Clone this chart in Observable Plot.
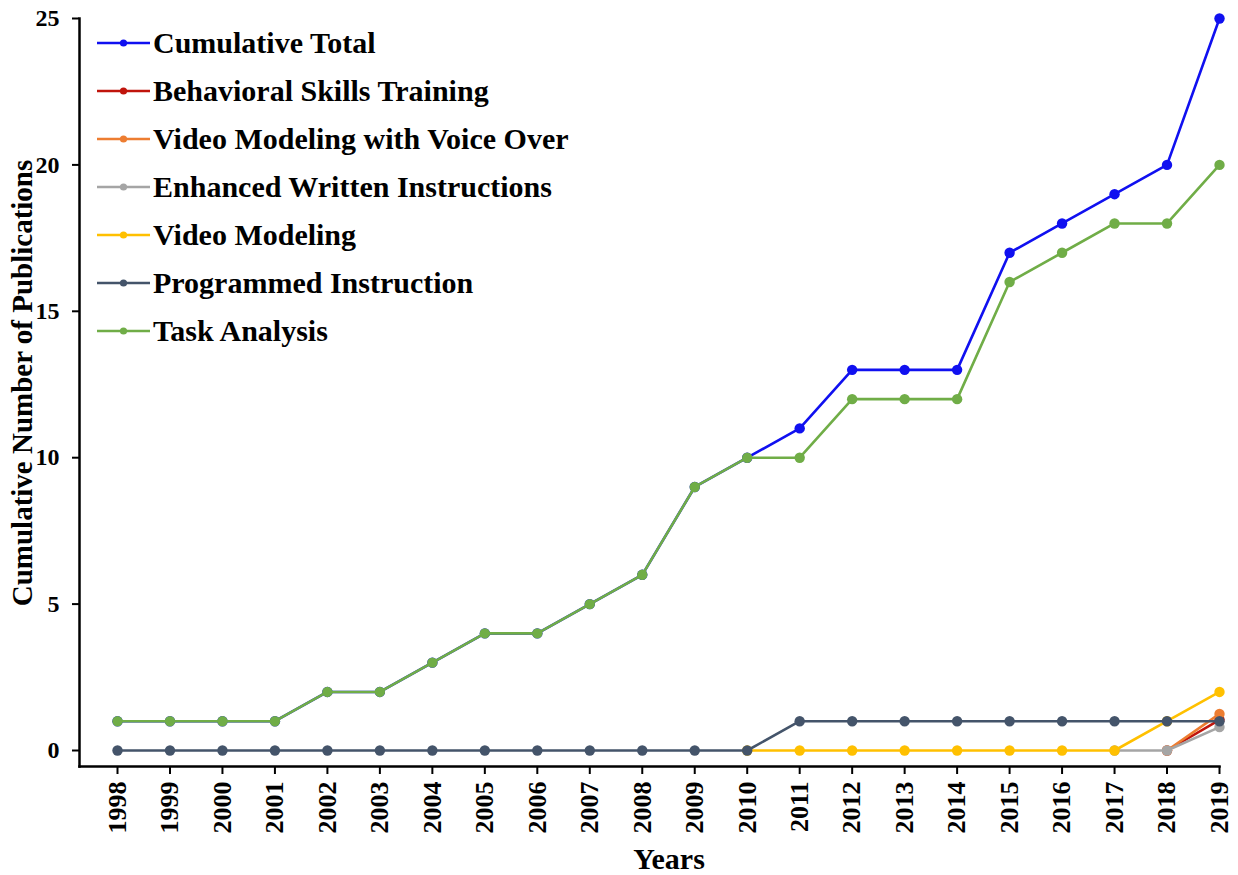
<!DOCTYPE html>
<html><head><meta charset="utf-8">
<script src="https://cdn.jsdelivr.net/npm/d3@7"></script>
<script src="https://cdn.jsdelivr.net/npm/@observablehq/plot@0.6"></script>
<style>
body{margin:0;background:#fff;}
#wrap{position:relative;width:1238px;height:875px;}
#legend{position:absolute;left:97px;top:19px;font-family:"Liberation Serif",serif;font-weight:bold;font-size:30px;color:#000;}
.row{display:flex;align-items:center;height:48px;white-space:nowrap;}
.row svg{margin-right:3px;}
</style></head>
<body>
<div id="wrap"><div id="legend"></div></div>
<script>
const years = [1998,1999,2000,2001,2002,2003,2004,2005,2006,2007,2008,2009,2010,2011,2012,2013,2014,2015,2016,2017,2018,2019];
const seriesNames = ["Cumulative Total","Behavioral Skills Training","Video Modeling with Voice Over","Enhanced Written Instructions","Video Modeling","Programmed Instruction","Task Analysis"];
const seriesColors = ["#1010f0","#c0140c","#ed7d31","#a5a5a5","#ffc000","#44546a","#70ad47"];
const cumulativeTotal = [1,1,1,1,2,2,3,4,4,5,6,9,10,11,13,13,13,17,18,19,20,25];
const behavioralSkillsTraining = [null,null,null,null,null,null,null,null,null,null,null,null,null,null,null,null,null,null,null,null,0,1.05];
const videoModelingVoiceOver = [null,null,null,null,null,null,null,null,null,null,null,null,null,null,null,null,null,null,null,null,0,1.25];
const enhancedWrittenInstructions = [null,null,null,null,null,null,null,null,null,null,null,null,null,null,null,null,null,null,null,0,0,0.8];
const videoModeling = [null,null,null,null,null,null,null,null,null,null,null,null,0,0,0,0,0,0,0,0,1,2];
const programmedInstruction = [0,0,0,0,0,0,0,0,0,0,0,0,0,1,1,1,1,1,1,1,1,1];
const taskAnalysis = [1,1,1,1,2,2,3,4,4,5,6,9,10,10,12,12,12,16,17,18,18,20];
const yTicks = [0,5,10,15,20,25];

const seriesValues = [cumulativeTotal,behavioralSkillsTraining,videoModelingVoiceOver,enhancedWrittenInstructions,videoModeling,programmedInstruction,taskAnalysis];
const data = [];
seriesNames.forEach((s,i)=>years.forEach((yr,j)=>{
  const v = seriesValues[i][j];
  if (v !== null) data.push({series:s, year:yr, value:v});
}));

const seriesMarks = [];
seriesNames.forEach((s,i)=>{
  const d = data.filter(r=>r.series===s);
  seriesMarks.push(Plot.line(d,{x:"year",y:"value",stroke:seriesColors[i],strokeWidth:2.6}));
  seriesMarks.push(Plot.dot(d,{x:"year",y:"value",fill:seriesColors[i],r:5.2}));
});

const fig = Plot.plot({
  width:1238, height:875,
  marginTop:18, marginLeft:79, marginRight:19, marginBottom:109,
  style:{fontFamily:"'Liberation Serif', serif", fontWeight:"bold", color:"#000", background:"#fff", overflow:"visible"},
  x:{domain:[1998,2019], insetLeft:38, insetRight:0, axis:null},
  y:{domain:[0,25], insetBottom:16, axis:null},
  marks:[
    Plot.frame({anchor:"left", strokeWidth:2.5}),
    Plot.frame({anchor:"bottom", strokeWidth:2.5}),
    Plot.axisX({ticks:years, tickFormat:d=>String(d), tickRotate:-90, tickSize:8, tickPadding:7, fontSize:26, label:null, strokeWidth:2}),
    Plot.axisY({ticks:yTicks, tickFormat:d=>String(d), tickSize:7, tickPadding:13, fontSize:24, label:null, strokeWidth:2}),
    ...seriesMarks
  ]
});
document.getElementById("wrap").prepend(fig);

const svg = d3.select(fig);
svg.append("text")
  .attr("transform","translate(32,383) rotate(-90)")
  .attr("text-anchor","middle")
  .attr("font-size",29).attr("font-weight","bold").attr("fill","#000")
  .text("Cumulative Number of Publications");
svg.append("text")
  .attr("x",669).attr("y",869)
  .attr("text-anchor","middle")
  .attr("font-size",30).attr("font-weight","bold").attr("fill","#000")
  .text("Years");

const legend = d3.select("#legend");
seriesNames.forEach((s,i)=>{
  const row = legend.append("div").attr("class","row");
  const sw = row.append("svg").attr("width",53).attr("height",10);
  sw.append("line").attr("x1",0).attr("x2",53).attr("y1",5).attr("y2",5).attr("stroke",seriesColors[i]).attr("stroke-width",2.6);
  sw.append("circle").attr("cx",26.5).attr("cy",5).attr("r",3.6).attr("fill",seriesColors[i]);
  row.append("span").text(s);
});
</script>
</body></html>
